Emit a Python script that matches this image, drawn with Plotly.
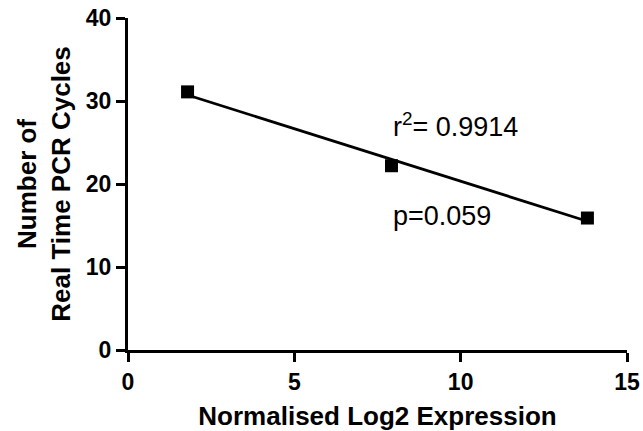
import numpy as np
import plotly.graph_objects as go

# Data
expression = [1.79, 7.92, 13.81]      # Normalised Log2 Expression
pcr_cycles = [31.1, 22.2, 15.9]       # Number of Real Time PCR Cycles
r2_label = "r<sup>2</sup>= 0.9914"
p_label = "p=0.059"

x_ticks = [0, 5, 10, 15]
y_ticks = [0, 10, 20, 30, 40]

# Linear regression fit
slope, intercept = np.polyfit(expression, pcr_cycles, 1)
fit_x = [min(expression), max(expression)]
fit_y = [slope * v + intercept for v in fit_x]

FONT = "Liberation Sans, Arial, Helvetica, sans-serif"

fig = go.Figure()
fig.add_trace(go.Scatter(x=fit_x, y=fit_y, mode="lines",
                         line=dict(color="black", width=2.8),
                         showlegend=False, hoverinfo="skip"))
fig.add_trace(go.Scatter(x=expression, y=pcr_cycles, mode="markers",
                         marker=dict(symbol="square", size=13, color="black"),
                         showlegend=False))

fig.add_annotation(x=7.9, y=27.1, xref="x", yref="y", text=r2_label,
                   showarrow=False, xanchor="left", yanchor="middle",
                   font=dict(family=FONT, size=27, color="black"))
fig.add_annotation(x=7.9, y=16.1, xref="x", yref="y", text=p_label,
                   showarrow=False, xanchor="left", yanchor="middle",
                   font=dict(family=FONT, size=27, color="black"))

axis_common = dict(showline=True, linecolor="black", linewidth=3,
                   ticks="outside", ticklen=9, tickwidth=3, tickcolor="black",
                   showgrid=False, zeroline=False, automargin=False,
                   ticklabeloverflow="allow",
                   tickfont=dict(family=FONT, size=23, color="black", weight="bold"))

fig.update_xaxes(range=[0, 15], tickvals=x_ticks,
                 title=dict(text="Normalised Log2 Expression",
                            font=dict(family=FONT, size=26, color="black", weight="bold"),
                            standoff=24),
                 **axis_common)
fig.update_yaxes(range=[0, 40], tickvals=y_ticks,
                 title=dict(text="Number of<br>Real Time PCR Cycles",
                            font=dict(family=FONT, size=26, color="black", weight="bold"),
                            standoff=8),
                 **axis_common)

fig.update_layout(width=643, height=431,
                  margin=dict(l=128, r=16, t=18, b=81),
                  plot_bgcolor="white", paper_bgcolor="white")

# Remove the default page margin so the figure sits at the window's top-left corner
fig.write_html("out.html", config={"displayModeBar": False},
               post_script="document.body.style.margin='0';")
